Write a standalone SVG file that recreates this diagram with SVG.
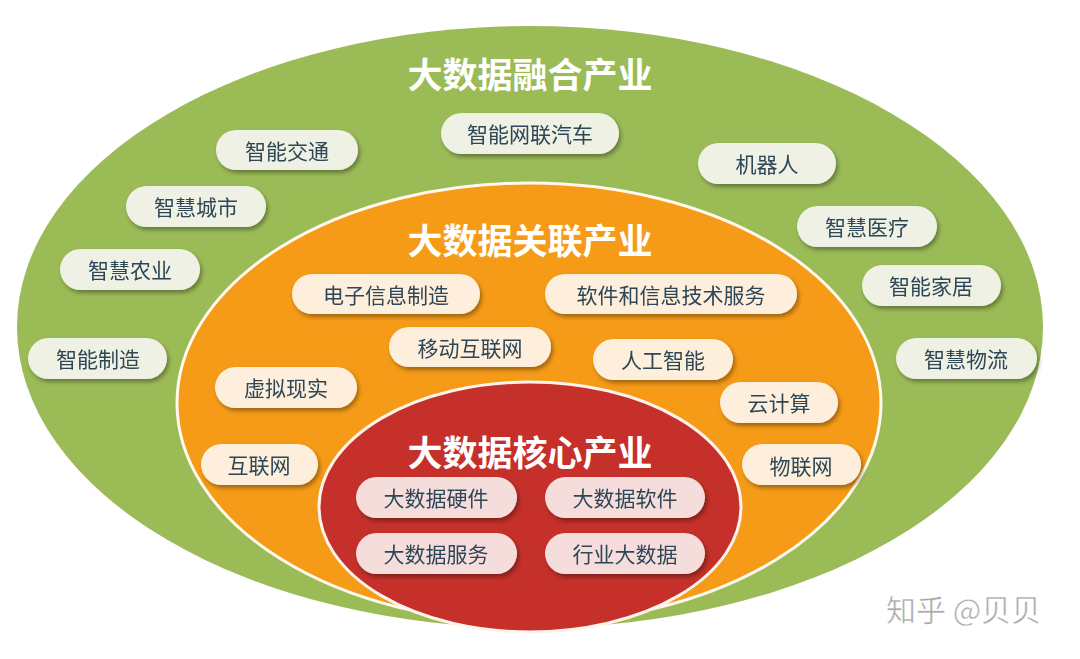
<svg xmlns="http://www.w3.org/2000/svg" width="1080" height="659" viewBox="0 0 1080 659">
  <style>
    .title{font-family:"Noto Sans CJK SC","Noto Sans",sans-serif;font-weight:bold;font-size:35px;fill:#ffffff;text-anchor:middle;dominant-baseline:central}
    .lbl{font-family:"Noto Sans CJK SC","Noto Sans",sans-serif;font-size:21px;fill:#2f4656;text-anchor:middle;dominant-baseline:central}
    .pg{fill:#eef1e3}
    .po{fill:#fdefdc}
    .pr{fill:#f5dddc}
    .wm{font-family:"Noto Sans CJK SC","Noto Sans",sans-serif;font-size:30px;fill:#a8a8a8;stroke:#ffffff;stroke-width:0.5}
  </style>
  <defs>
    <filter id="sh" x="-20%" y="-30%" width="140%" height="170%">
      <feDropShadow dx="2" dy="3" stdDeviation="2" flood-color="#000000" flood-opacity="0.35"/>
    </filter>
  </defs>
  <rect width="1080" height="659" fill="#ffffff"/>

  <g id="ring-fusion">
    <ellipse cx="530" cy="327" rx="513" ry="301" fill="#9bbb57"/>
    <text class="title" x="530" y="72">大数据融合产业</text>
  </g>
  <g id="ring-related">
    <ellipse cx="529" cy="403" rx="352" ry="220" fill="#f59b17" stroke="#fff8ec" stroke-width="3"/>
    <text class="title" x="530" y="238">大数据关联产业</text>
  </g>
  <g id="ring-core">
    <ellipse cx="530" cy="507" rx="211" ry="125" fill="#c5302a" stroke="#fff3ec" stroke-width="3"/>
    <text class="title" x="530" y="450">大数据核心产业</text>
  </g>

  <g id="fusion-items" filter="url(#sh)">
    <g id="n-jiaotong"><rect class="pg" x="216" y="130" width="142" height="40" rx="20"/><text class="lbl" x="287" y="150">智能交通</text></g>
    <g id="n-qiche"><rect class="pg" x="441" y="113" width="178" height="41" rx="20.5"/><text class="lbl" x="530" y="133">智能网联汽车</text></g>
    <g id="n-jiqiren"><rect class="pg" x="698" y="143" width="138" height="41" rx="20.5"/><text class="lbl" x="767" y="163">机器人</text></g>
    <g id="n-chengshi"><rect class="pg" x="126" y="186" width="140" height="41" rx="20.5"/><text class="lbl" x="196" y="206">智慧城市</text></g>
    <g id="n-yiliao"><rect class="pg" x="797" y="206" width="140" height="41" rx="20.5"/><text class="lbl" x="867" y="226">智慧医疗</text></g>
    <g id="n-nongye"><rect class="pg" x="60" y="249" width="140" height="41" rx="20.5"/><text class="lbl" x="130" y="269">智慧农业</text></g>
    <g id="n-jiaju"><rect class="pg" x="862" y="265" width="139" height="41" rx="20.5"/><text class="lbl" x="931" y="285">智能家居</text></g>
    <g id="n-zhizao"><rect class="pg" x="28" y="338" width="139" height="41" rx="20.5"/><text class="lbl" x="98" y="358">智能制造</text></g>
    <g id="n-wuliu"><rect class="pg" x="896" y="338" width="141" height="41" rx="20.5"/><text class="lbl" x="966" y="358">智慧物流</text></g>
  </g>

  <g id="related-items" filter="url(#sh)">
    <g id="n-dianzi"><rect class="po" x="292" y="274" width="188" height="40" rx="20"/><text class="lbl" x="386" y="294">电子信息制造</text></g>
    <g id="n-ruanjian"><rect class="po" x="545" y="274" width="252" height="40" rx="20"/><text class="lbl" x="671" y="294">软件和信息技术服务</text></g>
    <g id="n-yidong"><rect class="po" x="389" y="327" width="162" height="40" rx="20"/><text class="lbl" x="470" y="347">移动互联网</text></g>
    <g id="n-rengong"><rect class="po" x="593" y="339" width="140" height="41" rx="20.5"/><text class="lbl" x="663" y="359">人工智能</text></g>
    <g id="n-xuni"><rect class="po" x="215" y="367" width="142" height="41" rx="20.5"/><text class="lbl" x="286" y="387">虚拟现实</text></g>
    <g id="n-yun"><rect class="po" x="720" y="382" width="118" height="41" rx="20.5"/><text class="lbl" x="779" y="402">云计算</text></g>
    <g id="n-hulian"><rect class="po" x="201" y="444" width="117" height="41" rx="20.5"/><text class="lbl" x="259" y="464">互联网</text></g>
    <g id="n-wulian"><rect class="po" x="742" y="444" width="119" height="41" rx="20.5"/><text class="lbl" x="801" y="465">物联网</text></g>
  </g>

  <g id="core-items" filter="url(#sh)">
    <g id="n-yingjian"><rect class="pr" x="356" y="477" width="161" height="41" rx="20.5"/><text class="lbl" x="436" y="497">大数据硬件</text></g>
    <g id="n-ruanjian2"><rect class="pr" x="545" y="477" width="160" height="41" rx="20.5"/><text class="lbl" x="625" y="497">大数据软件</text></g>
    <g id="n-fuwu"><rect class="pr" x="356" y="533" width="161" height="41" rx="20.5"/><text class="lbl" x="436" y="553">大数据服务</text></g>
    <g id="n-hangye"><rect class="pr" x="545" y="533" width="160" height="41" rx="20.5"/><text class="lbl" x="625" y="553">行业大数据</text></g>
  </g>

  <g id="connectors"/>

  <text class="wm" x="886" y="621">知乎 @贝贝</text>
</svg>
